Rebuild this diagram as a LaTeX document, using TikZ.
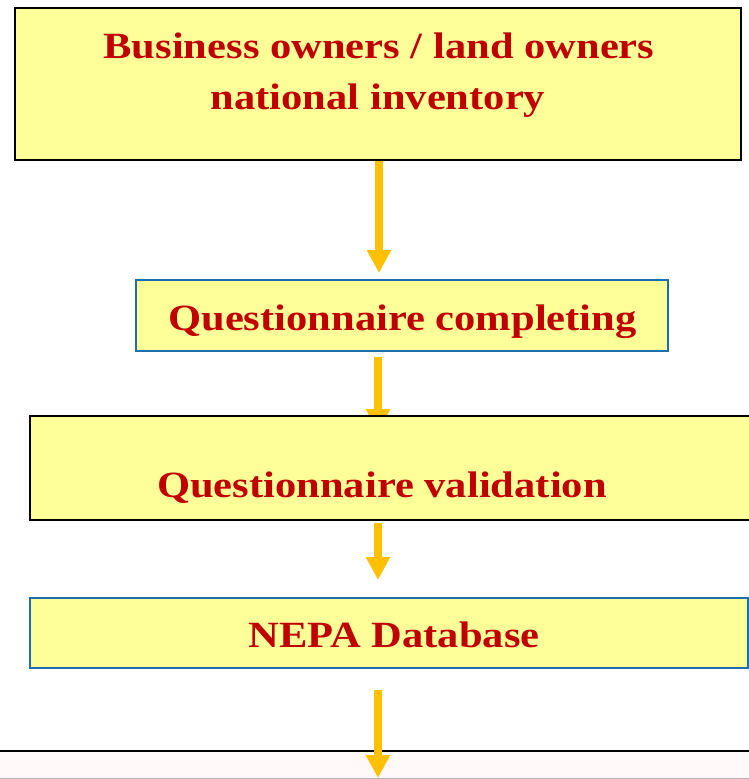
\documentclass[tikz,border=0pt]{standalone}
\usepackage{fontspec}
\newfontfamily\gfont[FakeStretch=1.15]{Liberation Serif}
\usetikzlibrary{arrows.meta,backgrounds}
\definecolor{boxyellow}{RGB}{255,255,153}
\definecolor{txtred}{RGB}{192,0,0}
\definecolor{arrgold}{RGB}{255,192,0}
\definecolor{boxblue}{RGB}{30,110,175}
\definecolor{palepink}{RGB}{255,249,249}
\tikzset{
  blackbox/.style={draw=black, line width=2pt, fill=boxyellow, inner sep=0pt},
  bluebox/.style={draw=boxblue, line width=2pt, fill=boxyellow, inner sep=0pt},
  lbl/.style={text=txtred, font=\gfont\bfseries\fontsize{37}{44}\selectfont, anchor=base, inner sep=0pt},
  flow/.style={draw=arrgold, line width=8pt, -{Triangle[width=23pt,length=23pt]}},
}
\begin{document}
\begin{tikzpicture}[x=1pt,y=-1pt]
\useasboundingbox (0,0) rectangle (749,779);
% boxes
\node[blackbox, minimum width=726pt, minimum height=152pt] (b1) at (378,84) {};
\node[bluebox, minimum width=532pt, minimum height=71pt] (b2) at (402,315.5) {};
\node[blackbox, minimum width=735pt, minimum height=104pt] (b3) at (397.5,468) {};
\node[bluebox, minimum width=718pt, minimum height=70pt] (b4) at (389,633) {};
\node[draw=black, line width=2pt, fill=palepink, inner sep=0pt, minimum width=770pt, minimum height=60pt] (b5) at (374.5,781) {};
\draw[gray!60, line width=1pt] (0,778.5) -- (749,778.5);
% labels
\node[lbl] (t1a) at (379,58) {Business owners / land owners};
\node[lbl] (t1b) at (378,109) {national inventory};
\node[lbl] (t2) at (402.5,330) {Questionnaire completing};
\node[lbl] (t3) at (382,497) {Questionnaire validation};
\node[lbl] (t4) at (394,647) {NEPA Database};
% arrows
\draw[flow, shorten >=6pt] (b1.south -| 379,0) -- (b2.north -| 379,0);
\begin{scope}[on background layer]
\draw[flow, shorten <=5pt, shorten >=-17pt] (b2.south -| 378,0) -- (b3.north -| 378,0);
\end{scope}
\draw[flow, shorten <=2pt, shorten >=17pt] (b3.south -| 378,0) -- (b4.north -| 378,0);
\draw[flow, shorten <=21pt, shorten >=-28pt] (b4.south -| 378,0) -- (b5.north -| 378,0);
\end{tikzpicture}
\end{document}
